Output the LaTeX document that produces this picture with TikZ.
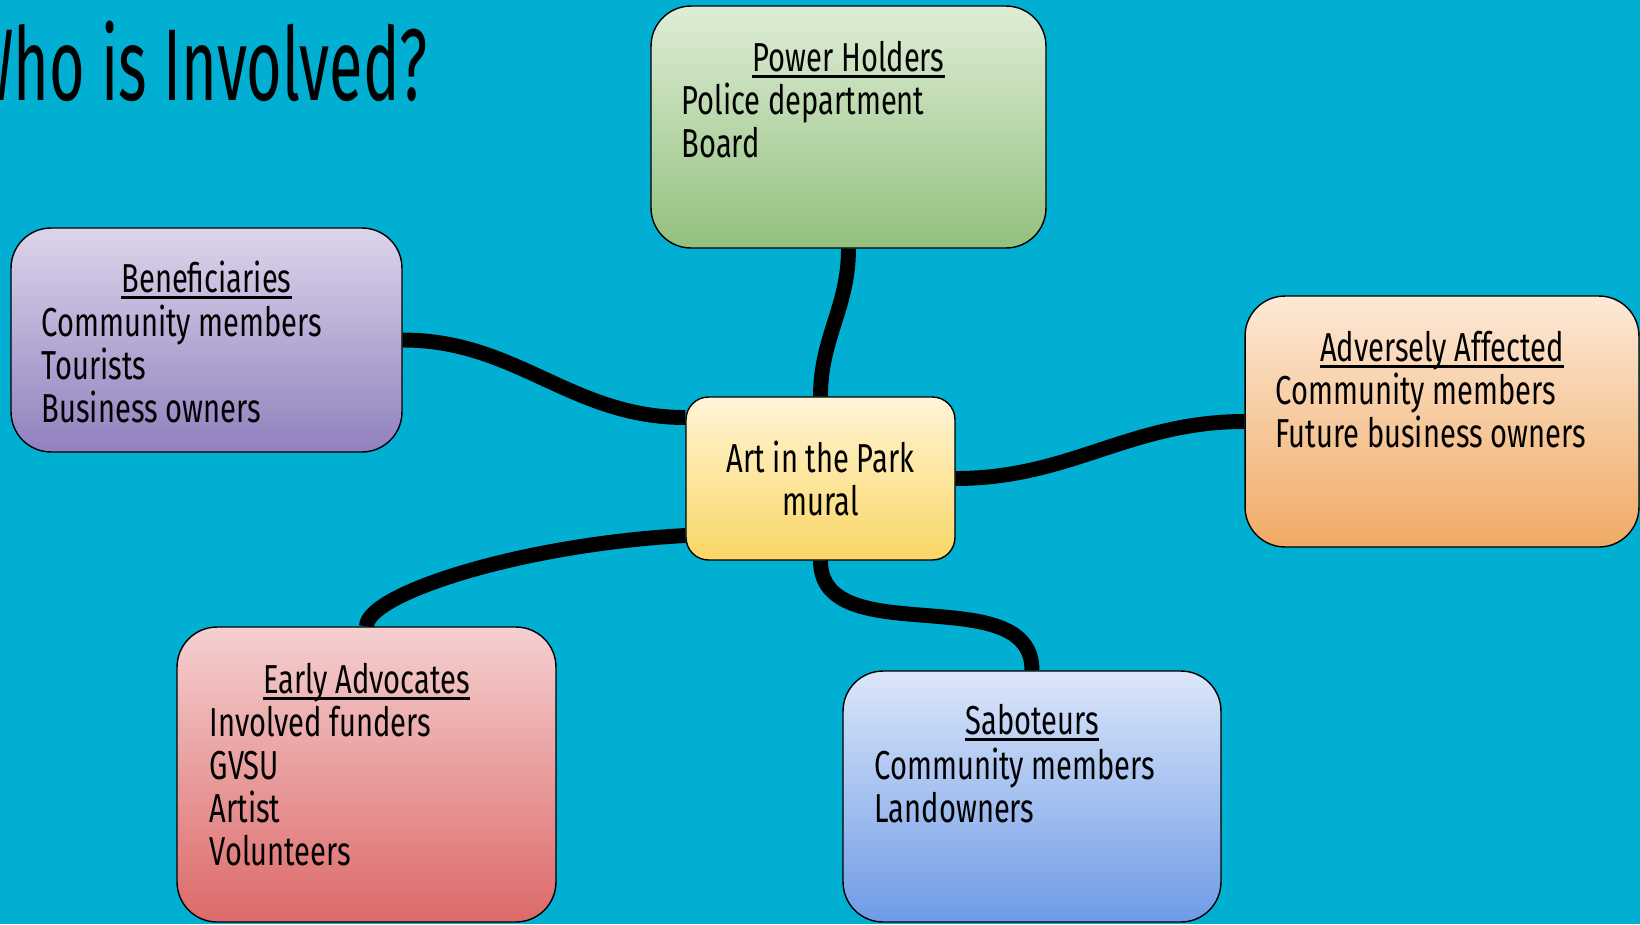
\documentclass[tikz,border=0pt]{standalone}
\usepackage{fontspec}
\setmainfont{Fira Sans}[FakeStretch=0.72]
\newfontfamily\titlefont{Fira Sans}[FakeStretch=0.6]
\usetikzlibrary{calc}

\definecolor{slidebg}{RGB}{0,175,209}
\definecolor{greentop}{RGB}{222,237,215}
\definecolor{greenbot}{RGB}{147,192,125}
\definecolor{purpletop}{RGB}{220,213,235}
\definecolor{purplebot}{RGB}{145,128,190}
\definecolor{yellowtop}{RGB}{255,245,215}
\definecolor{yellowbot}{RGB}{250,214,100}
\definecolor{orangetop}{RGB}{253,233,215}
\definecolor{orangebot}{RGB}{240,170,100}
\definecolor{redtop}{RGB}{245,208,208}
\definecolor{redbot}{RGB}{220,105,105}
\definecolor{bluetop}{RGB}{220,230,250}
\definecolor{bluebot}{RGB}{110,155,230}

\pgfdeclarelayer{backdrop}
\pgfdeclarelayer{wires}
\pgfsetlayers{backdrop,wires,main}

\begin{document}
\begin{tikzpicture}[x=0.02cm, y=-0.02cm,
    group/.style={draw=black, line width=0.8pt, rounded corners=0.8cm, inner sep=0pt},
    hub/.style={draw=black, line width=0.8pt, rounded corners=0.45cm, align=center,
      font=\fontsize{23}{24.5}\selectfont},
    heading/.style={anchor=base, inner sep=0pt, font=\fontsize{23}{24.5}\selectfont},
    members/.style={anchor=base west, inner sep=0pt, font=\fontsize{23}{24.5}\selectfont},
    link/.style={line width=8.5pt}]

  \begin{pgfonlayer}{backdrop}
    \fill[slidebg] (0,0) rectangle (1640,924);
  \end{pgfonlayer}
  \useasboundingbox (0,0) rectangle (1640,924);

  % title
  \node[anchor=base east, inner sep=0pt, font=\titlefont\fontsize{58}{64}\selectfont] (title) at (428,100) {Who is Involved?};

  % centre
  \node[hub, top color=yellowtop, bottom color=yellowbot, minimum width=5.38cm, minimum height=3.26cm] (hub) at (820.5,478.5) {Art in the Park\\mural};

  % groups
  \node[group, top color=greentop, bottom color=greenbot, minimum width=7.9cm, minimum height=4.84cm] (power) at (848.5,127) {};
  \node[group, top color=purpletop, bottom color=purplebot, minimum width=7.82cm, minimum height=4.48cm] (benef) at (206.5,340) {};
  \node[group, top color=orangetop, bottom color=orangebot, minimum width=7.88cm, minimum height=5.02cm] (adverse) at (1442,421.5) {};
  \node[group, top color=redtop, bottom color=redbot, minimum width=7.58cm, minimum height=5.9cm] (early) at (366.5,774.5) {};
  \node[group, top color=bluetop, bottom color=bluebot, minimum width=7.56cm, minimum height=5.02cm] (sabot) at (1032,796.5) {};

  % headings
  \node[heading] (powerhead) at ($(power.north)+(0,66)$) {Power Holders};
  \node[heading] (benefhead) at ($(benef.north)+(0,65)$) {Beneficiaries};
  \node[heading] (adversehead) at ($(adverse.north)+(0,66)$) {Adversely Affected};
  \node[heading] (earlyhead) at ($(early.north)+(0,67)$) {Early Advocates};
  \node[heading] (sabothead) at ($(sabot.north)+(0,64)$) {Saboteurs};
  \foreach \h in {powerhead,benefhead,adversehead,earlyhead,sabothead}
    \draw[line width=1.4pt] ($(\h.base west)+(0,5)$) -- ($(\h.base east)+(0,5)$);

  % member lists, one line every 43px
  \foreach \t [count=\i from 0] in {Police department, Board}
    \node[members] (power-\i) at ($(power.north west)+(31,109+43*\i)$) {\t};
  \foreach \t [count=\i from 0] in {Community members, Tourists, Business owners}
    \node[members] (benef-\i) at ($(benef.north west)+(31,109+43*\i)$) {\t};
  \foreach \t [count=\i from 0] in {Community members, Future business owners}
    \node[members] (adverse-\i) at ($(adverse.north west)+(31,109+43*\i)$) {\t};
  \foreach \t [count=\i from 0] in {Involved funders, GVSU, Artist, Volunteers}
    \node[members] (early-\i) at ($(early.north west)+(33,110+43*\i)$) {\t};
  \foreach \t [count=\i from 0] in {Community members, Landowners}
    \node[members] (sabot-\i) at ($(sabot.north west)+(32,109+43*\i)$) {\t};

  % connectors
  \begin{pgfonlayer}{wires}
    \draw[link] (power.south) to[out=-90, in=90] (hub.north);
    \draw[link] (benef.east) to[out=0, in=180] ($(hub.west)+(0,-61)$);
    \draw[link] (hub.east) to[out=0, in=180] (adverse.west);
    \draw[link] ($(hub.west)+(0,57)$) .. controls +(-166,9) and ($(early.north)+(0,-32)$) .. (early.north);
    \draw[link] (hub.south) to[out=-90, in=90] (sabot.north);
  \end{pgfonlayer}
\end{tikzpicture}
\end{document}
